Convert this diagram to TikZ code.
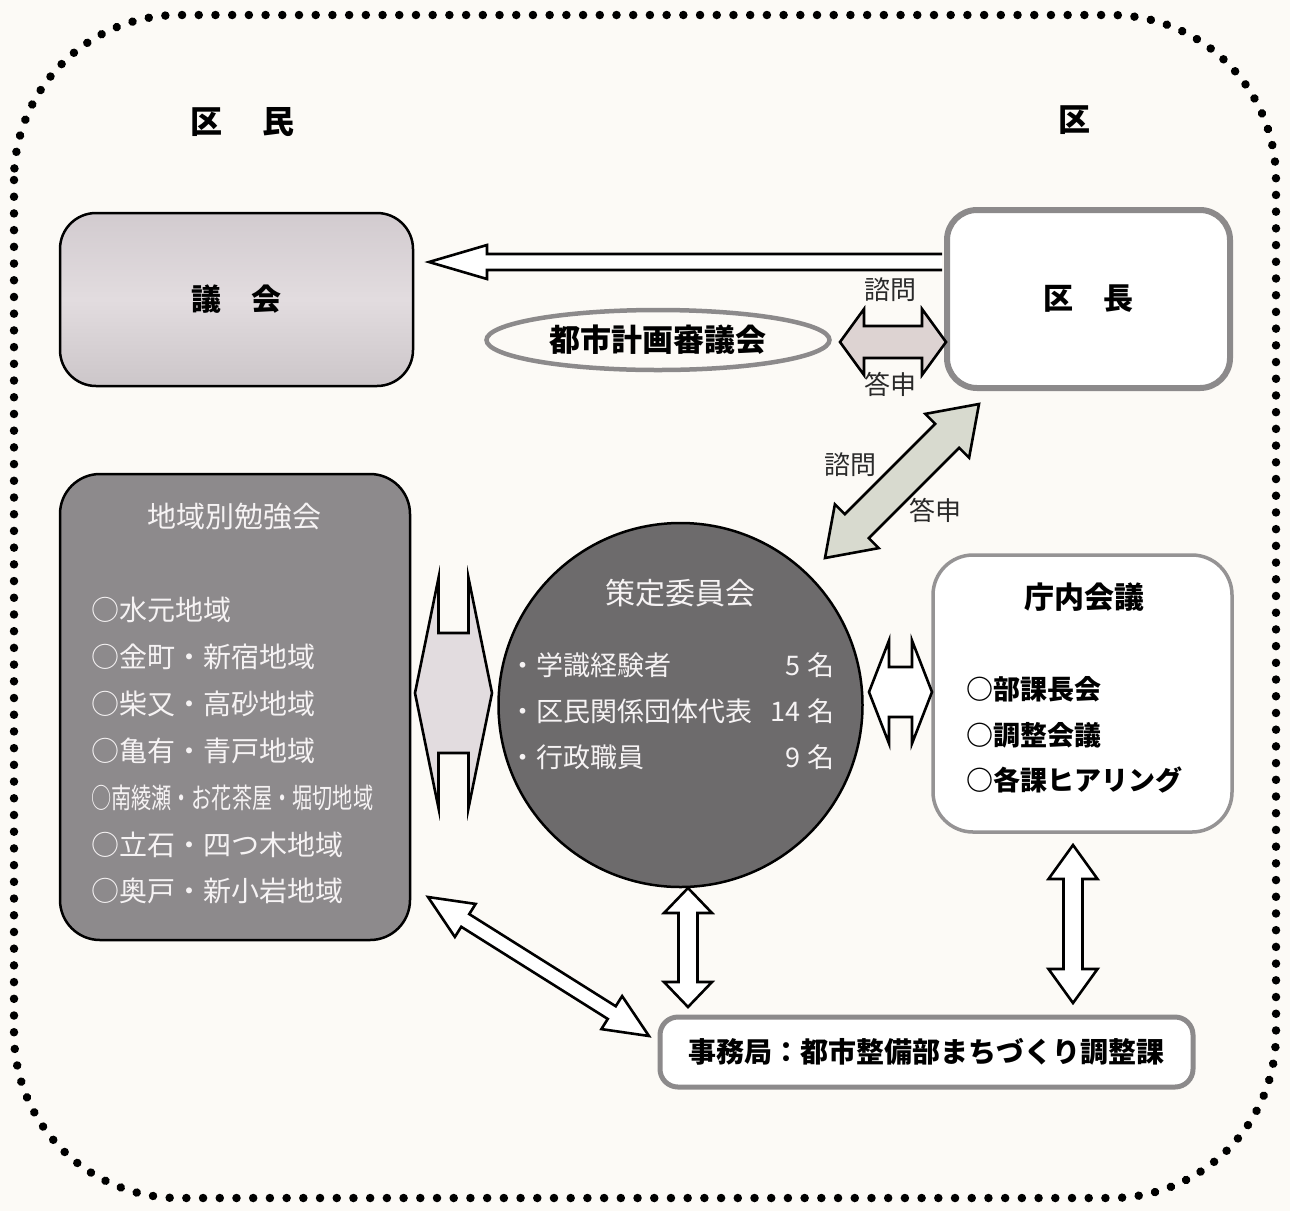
\documentclass[tikz,border=0pt]{standalone}
\usepackage{fontspec}
\setmainfont{Noto Sans CJK JP}
\usetikzlibrary{calc,shapes.geometric}
\definecolor{bg}{HTML}{FCFAF6}
\definecolor{kgray}{HTML}{8C8A8B}
\definecolor{cbord}{HTML}{959394}
\definecolor{bgray}{HTML}{8D8A8C}
\definecolor{cgray}{HTML}{6D6B6C}
\definecolor{pinkfill}{HTML}{DDD3D2}
\definecolor{greenfill}{HTML}{D8DACF}
\definecolor{bowfill}{HTML}{E2DCDF}
\definecolor{lbltext}{HTML}{2A2A2A}
\definecolor{wtext}{HTML}{F6F3F4}
\definecolor{gtop}{HTML}{D2CBCF}
\definecolor{gmid}{HTML}{E2DCDF}
\definecolor{gbot}{HTML}{CCC6C9}
\newcommand{\fsz}[1]{\fontsize{#1pt}{#1pt}\selectfont}
\newcommand{\blockdbl}[6]{%
  \draw[#6] (#1)
   -- ($(#1)!#3!(#2)!#4!90:(#2)$)
   -- ($(#1)!#3!(#2)!#5!90:(#2)$)
   -- ($(#2)!#3!(#1)!#5!-90:(#1)$)
   -- ($(#2)!#3!(#1)!#4!-90:(#1)$)
   -- (#2)
   -- ($(#2)!#3!(#1)!#4!90:(#1)$)
   -- ($(#2)!#3!(#1)!#5!90:(#1)$)
   -- ($(#1)!#3!(#2)!#5!-90:(#2)$)
   -- ($(#1)!#3!(#2)!#4!-90:(#2)$)
   -- cycle;}
\tikzset{
  txt/.style={inner sep=0pt, outer sep=0pt},
  arrowline/.style={draw=black, line width=2.6pt, line join=miter},
  dotborder/.style={draw=black, line width=8.5pt, line cap=round, dash pattern=on 0.01pt off 16.7pt, rounded corners=165pt},
  lbl/.style={txt, font=\fsz{26}, text=lbltext},
  witem/.style={txt, anchor=west, font=\fsz{28}, text=wtext},
  citem/.style={txt, font=\fsz{27}, text=wtext},
  bitem/.style={txt, anchor=west, font=\fsz{27}\bfseries, text=black},
}
\begin{document}
\begin{tikzpicture}[x=1pt,y=-1pt]
\useasboundingbox (0,0) rectangle (1290,1211);
\fill[bg] (0,0) rectangle (1290,1211);
\draw[dotborder] (14,15) rectangle (1276,1198);

% headings
\node[txt, font=\fsz{32}\bfseries] (kumin) at (242,122) {区\hspace{1.25em}民};
\node[txt, font=\fsz{32}\bfseries] (ku) at (1074,120) {区};

% boxes
\node[draw=black, line width=2.5pt, rounded corners=36pt, minimum width=353pt, minimum height=173pt,
      top color=gtop, bottom color=gbot, middle color=gmid,
      font=\fsz{30}\bfseries] (gikai) at (236.5,299.5) {議\hspace{1em}会};
\node[draw=kgray, line width=6pt, rounded corners=30pt, fill=white, minimum width=283pt, minimum height=178pt,
      font=\fsz{30}\bfseries] (kucho) at (1088.5,299) {区\hspace{1em}長};
\node[ellipse, draw=kgray, line width=4.5pt, fill=bg, minimum width=343pt, minimum height=60pt, inner sep=0pt,
      font=\fsz{31}\bfseries] (shingi) at (658,340) {都市計画審議会};

\node[draw=black, line width=2.5pt, rounded corners=40pt, fill=bgray, minimum width=350pt, minimum height=466pt] (benkyo) at (235,707) {};
\node[txt, font=\fsz{29}, text=wtext] (benkyoT) at (234,517) {地域別勉強会};
\node[witem] (b1) at (91,610) {○水元地域};
\node[witem] (b2) at (91,657) {○金町・新宿地域};
\node[witem] (b3) at (91,704) {○柴又・高砂地域};
\node[witem] (b4) at (91,751) {○亀有・青戸地域};
\node[witem, xscale=0.72] (b5) at (91,798) {○南綾瀬・お花茶屋・堀切地域};
\node[witem] (b6) at (91,845) {○立石・四つ木地域};
\node[witem] (b7) at (91,891) {○奥戸・新小岩地域};

\node[circle, draw=black, line width=2.5pt, fill=cgray, minimum size=364pt, inner sep=0pt] (sakutei) at (680.5,705) {};
\node[txt, font=\fsz{30}, text=wtext] (sakuteiT) at (680,593) {策定委員会};
\node[citem, anchor=west] (c1) at (509,665) {・学識経験者};
\node[citem, anchor=east] (c1n) at (834,665) {5 名};
\node[citem, anchor=west] (c2) at (509,711) {・区民関係団体代表};
\node[citem, anchor=east] (c2n) at (834,711) {14 名};
\node[citem, anchor=west] (c3) at (509,757) {・行政職員};
\node[citem, anchor=east] (c3n) at (834,757) {9 名};

\node[draw=cbord, line width=3.5pt, rounded corners=40pt, fill=white, minimum width=299pt, minimum height=277pt] (chonai) at (1082.5,693.5) {};
\node[txt, font=\fsz{30}\bfseries] (chonaiT) at (1084,597) {庁内会議};
\node[bitem] (d1) at (966,689) {○部課長会};
\node[bitem] (d2) at (966,735) {○調整会議};
\node[bitem] (d3) at (966,780) {○各課ヒアリング};

\node[draw=kgray, line width=5pt, rounded corners=18pt, fill=white, minimum width=533pt, minimum height=70pt,
      font=\fsz{28}\bfseries] (jimu) at (926.5,1052) {事務局：都市整備部まちづくり調整課};

% single arrow kucho -> gikai
\coordinate (s1tip) at (429,262);
\coordinate (s1tail) at (kucho.west |- s1tip);
\draw[arrowline, fill=white] ($(s1tail)+(-2,-8)$) -- ($(s1tip)+(58,-8)$) -- ($(s1tip)+(58,-17)$) -- (s1tip)
   -- ($(s1tip)+(58,17)$) -- ($(s1tip)+(58,8)$) -- ($(s1tail)+(-2,8)$);

% shingi <-> kucho
\coordinate (a2L) at (840,342);
\coordinate (a2R) at (946,342);
\blockdbl{a2L}{a2R}{24pt}{33pt}{16pt}{arrowline, fill=pinkfill}
\node[lbl] (q1) at (890,290) {諮問};
\node[lbl] (r1) at (890,384) {答申};

% sakutei <-> kucho
\coordinate (a3L) at (825,558);
\coordinate (a3R) at (979,404);
\blockdbl{a3L}{a3R}{45pt}{31pt}{17pt}{arrowline, fill=greenfill}
\node[lbl] (q2) at (850,465) {諮問};
\node[lbl] (r2) at (935,510) {答申};

% benkyo <-> sakutei
\coordinate (a4L) at (415,693);
\coordinate (a4R) at (492,693);
\blockdbl{a4L}{a4R}{23.5pt}{115pt}{60pt}{arrowline, fill=bowfill}

% sakutei <-> chonai
\coordinate (a5L) at (869,692);
\coordinate (a5R) at (932,692);
\blockdbl{a5L}{a5R}{20pt}{51.5pt}{25pt}{arrowline, fill=white}

% sakutei <-> jimu
\coordinate (a6T) at (688,888);
\coordinate (a6B) at (688,1007);
\blockdbl{a6T}{a6B}{25pt}{24pt}{9.5pt}{arrowline, fill=white}

% chonai <-> jimu
\coordinate (a7T) at (1073,845);
\coordinate (a7B) at (1073,1003);
\blockdbl{a7T}{a7B}{34pt}{24.5pt}{9.5pt}{arrowline, fill=white}

% benkyo <-> jimu
\coordinate (a8T) at (428,897);
\coordinate (a8B) at (649,1036);
\blockdbl{a8T}{a8B}{44pt}{19.5pt}{7.5pt}{arrowline, fill=white}
\end{tikzpicture}
\end{document}
